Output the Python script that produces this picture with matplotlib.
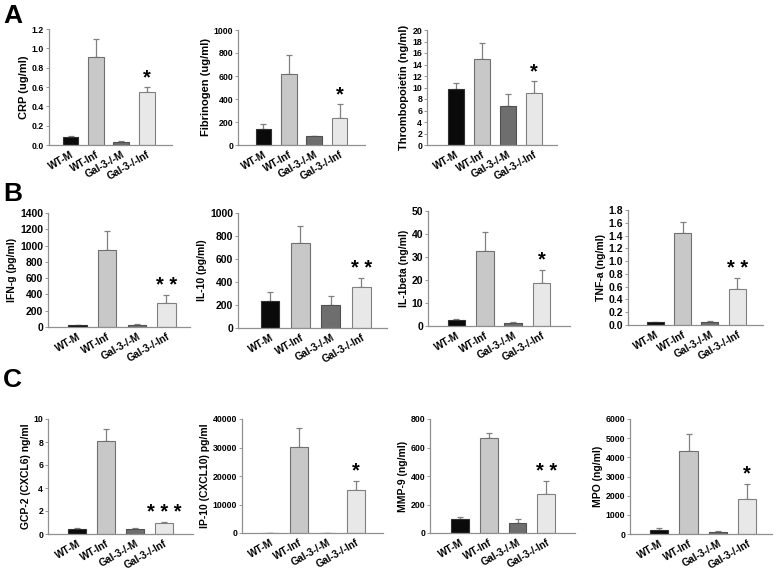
import matplotlib
matplotlib.use("Agg")
import matplotlib.pyplot as plt
import numpy as np

plt.rcParams['font.family'] = ['Liberation Sans', 'DejaVu Sans']
plt.rcParams['font.weight'] = 'bold'

groups = ["WT-M", "WT-Inf", "Gal-3-/-M", "Gal-3-/-Inf"]

crp_mean = [0.08, 0.91, 0.035, 0.55]
crp_err = [0.01, 0.19, 0.005, 0.05]
fib_mean = [135, 620, 75, 235]
fib_err = [50, 165, 0, 120]
tpo_mean = [9.7, 15.0, 6.8, 9.0]
tpo_err = [1.0, 2.8, 2.0, 2.1]
ifn_mean = [20, 940, 30, 290]
ifn_err = [5, 245, 5, 105]
il10_mean = [235, 740, 200, 355]
il10_err = [80, 150, 80, 80]
il1b_mean = [2.7, 32.8, 1.5, 18.5]
il1b_err = [0.5, 8.2, 0.3, 6.0]
tnf_mean = [0.04, 1.44, 0.05, 0.57]
tnf_err = [0.01, 0.18, 0.01, 0.16]
gcp_mean = [0.45, 8.1, 0.4, 0.95]
gcp_err = [0.05, 1.05, 0.15, 0.1]
ip10_mean = [50, 30100, 100, 15000]
ip10_err = [0, 6900, 0, 3300]
mmp9_mean = [100, 670, 70, 275]
mmp9_err = [15, 35, 25, 90]
mpo_mean = [200, 4350, 130, 1850]
mpo_err = [100, 850, 50, 770]

stars = ["*", "* *", "* * *"]

panels = [
    # ylabel, mean, err, ymax, step, fmt, star, box(l,t,r,b), xlim, tick fs, label fs
    ("CRP (ug/ml)", crp_mean, crp_err, 1.2, 0.2, "{:.1f}", stars[0], (49, 29, 172, 145), (-0.85, 4.0), 6.3, 8),
    ("Fibrinogen (ug/ml)", fib_mean, fib_err, 1000, 200, "{:.0f}", stars[0], (238, 30, 365, 145), (-1.0, 4.0), 6.3, 8),
    ("Thrombopoietin (ng/ml)", tpo_mean, tpo_err, 20, 2, "{:.0f}", stars[0], (427, 30, 557, 145), (-1.1, 3.9), 6.3, 8),
    ("IFN-g (pg/ml)", ifn_mean, ifn_err, 1400, 200, "{:.0f}", stars[1], (48, 213, 190, 327), (-1.0, 3.8), 7.5, 7.5),
    ("IL-10 (pg/ml)", il10_mean, il10_err, 1000, 200, "{:.0f}", stars[1], (238, 213, 387, 328), (-1.05, 3.85), 7.5, 7.5),
    ("IL-1beta (ng/ml)", il1b_mean, il1b_err, 50, 10, "{:.0f}", stars[0], (428, 211, 570, 326), (-1.0, 4.0), 7.5, 7.5),
    ("TNF-a (ng/ml)", tnf_mean, tnf_err, 1.8, 0.2, "{:.1f}", stars[1], (628, 210, 763, 325), (-1.0, 3.95), 7.5, 7.5),
    ("GCP-2 (CXCL6) ng/ml", gcp_mean, gcp_err, 10, 2, "{:.0f}", stars[2], (48, 419, 193, 534), (-1.0, 4.0), 6.3, 7.5),
    ("IP-10 (CXCL10) pg/ml", ip10_mean, ip10_err, 40000, 10000, "{:.0f}", stars[0], (242, 419, 383, 533), (-1.0, 3.95), 6.3, 7.5),
    ("MMP-9 (ng/ml)", mmp9_mean, mmp9_err, 800, 200, "{:.0f}", stars[1], (430, 419, 575, 533), (-1.05, 4.0), 6.3, 7.5),
    ("MPO (ng/ml)", mpo_mean, mpo_err, 6000, 1000, "{:.0f}", stars[0], (630, 419, 772, 534), (-1.0, 3.85), 6.3, 7.5),
]

bar_colors = ["#0a0a0a", "#c8c8c8", "#6e6e6e", "#e8e8e8"]
edge_colors = ["#303030", "#707070", "#505050", "#808080"]

W, H = 779, 579
fig = plt.figure(figsize=(W / 100, H / 100), dpi=100)

for (ylabel, mean, err, ymax, step, fmt, star, box, xlim, tfs, lfs) in panels:
    l, t, r, b = box
    ax = fig.add_axes([l / W, 1 - b / H, (r - l) / W, (b - t) / H])
    x = np.arange(len(groups))
    ax.bar(x, mean, width=0.62, color=bar_colors, edgecolor=edge_colors, linewidth=0.8, zorder=2)
    ax.errorbar(x, mean, yerr=[np.zeros(len(err)), err], fmt='none', ecolor="#808080",
                elinewidth=0.9, capsize=2, capthick=0.9, zorder=1)
    ax.set_xlim(*xlim)
    ax.set_ylim(0, ymax)
    ticks = np.arange(0, ymax + step / 2, step)
    ax.set_yticks(ticks)
    ax.set_yticklabels([fmt.format(v) for v in ticks], fontsize=tfs, fontweight='bold')
    ax.set_xticks(x)
    ax.set_xticklabels(groups, rotation=30, ha='right', rotation_mode='anchor',
                       fontsize=7.3, fontweight='bold')
    ax.tick_params(axis='x', length=0, pad=3)
    ax.tick_params(axis='y', length=2, width=0.6, pad=1.5, color="#888888")
    for s in ['top', 'right']:
        ax.spines[s].set_visible(False)
    for s in ['left', 'bottom']:
        ax.spines[s].set_color("#909090")
        ax.spines[s].set_linewidth(0.9)
    ax.set_ylabel(ylabel, fontsize=lfs, fontweight='bold', labelpad=2)
    ax.annotate(star, (3, mean[3] + err[3]), xytext=(0, 0), textcoords='offset points',
                ha='center', va='bottom', fontsize=14.5, fontweight='bold')

fig.text(3 / W, 1 - 16 / H, "A", fontsize=19, fontweight='bold', va='center', ha='left')
fig.text(3 / W, 1 - 194 / H, "B", fontsize=19, fontweight='bold', va='center', ha='left')
fig.text(3 / W, 1 - 380 / H, "C", fontsize=19, fontweight='bold', va='center', ha='left')

fig.savefig("out.png", dpi=100)
